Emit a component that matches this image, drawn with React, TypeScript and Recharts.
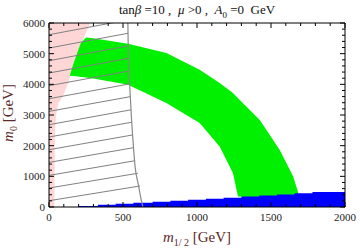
import { Area, ComposedChart, Line, XAxis, YAxis } from "recharts";

// axis ticks
const xMajor = [0, 500, 1000, 1500, 2000];
const xTicks = [0, 100, 200, 300, 400, 500, 600, 700, 800, 900, 1000, 1100, 1200, 1300, 1400, 1500, 1600, 1700, 1800, 1900, 2000];
const yMajor = [0, 1000, 2000, 3000, 4000, 5000, 6000];
const yTicks = [0, 200, 400, 600, 800, 1000, 1200, 1400, 1600, 1800, 2000, 2200, 2400, 2600, 2800, 3000, 3200, 3400, 3600, 3800, 4000, 4200, 4400, 4600, 4800, 5000, 5200, 5400, 5600, 5800, 6000];

// pink region (excluded, left of boundary)
const pinkX = [0, 36, 40, 48, 62, 95, 130, 150, 185, 230, 278];
const pinkLow = [0, 0, 2500, 3000, 3380, 3620, 4050, 4420, 4900, 5450, 6000];

// green band
const greenX = [140, 160, 185, 215, 250, 300, 534, 793, 1018, 1153, 1243, 1277, 1424, 1559, 1650, 1683];
const greenLow = [4280, 4275, 4260, 4240, 4220, 4190, 3990, 3390, 2738, 1975, 1108, 345, 300, 300, 300, 300];
const greenHigh = [4280, 4600, 4950, 5350, 5530, 5500, 5320, 5020, 4475, 4040, 3716, 3550, 2836, 1858, 998, 480];

// blue steps at the bottom
const blueX = [200, 330, 450, 570, 700, 820, 940, 1060, 1180, 1300, 1420, 1540, 1660, 1780, 2000];
const blueTop = [30, 70, 110, 140, 170, 205, 240, 270, 305, 340, 375, 410, 450, 490, 490];

// gray boundary of the hatched region
const edgeX = [533, 536, 545, 556, 570, 582, 605, 620, 635];
const edgeY = [6000, 5000, 4000, 3000, 2000, 1300, 700, 300, 0];

// hatch lines: start at m1/2 = 0, end on the boundary
const hatchLeft = [205, 619, 1030, 1454, 1868, 2282, 2684, 3118, 3531, 3955, 4369, 4770, 5184, 5618];
const hatchEndX = [615, 600, 582, 572, 566, 560, 555, 551, 546, 542, 538, 536, 534, 533];
const hatchEndY = [685, 1100, 1510, 1935, 2350, 2765, 3170, 3600, 4015, 4435, 4850, 5255, 5665, 6100];

const pinkData = pinkX.map((x, i) => ({ x, range: [pinkLow[i], 6000] }));
const greenData = greenX.map((x, i) => ({ x, range: [greenLow[i], greenHigh[i]] }));
const blueData = blueX.map((x, i) => ({ x, h: blueTop[i] }));
const edgeData = edgeX.map((x, i) => ({ x, y: edgeY[i] }));

const serif = "'Liberation Serif', 'DejaVu Serif', serif";
const labelColor = "#5c2a2a";

function BottomTick(props: any) {
  const { x, y, payload } = props;
  const major = xMajor.includes(payload.value);
  return (
    <g>
      <line x1={x} x2={x} y1={y} y2={y - (major ? 5 : 3)} stroke="#000" />
      {major && (
        <text x={x} y={y + 14} textAnchor="middle" fontSize={11} fontFamily={serif} fill="#222">
          {payload.value}
        </text>
      )}
    </g>
  );
}

function TopTick(props: any) {
  const { x, y, payload } = props;
  const major = xMajor.includes(payload.value);
  return <line x1={x} x2={x} y1={y} y2={y + (major ? 5 : 3)} stroke="#000" />;
}

function LeftTick(props: any) {
  const { x, y, payload } = props;
  const major = yMajor.includes(payload.value);
  return (
    <g>
      <line x1={x} x2={x + (major ? 5 : 3)} y1={y} y2={y} stroke="#000" />
      {major && (
        <text x={x - 4} y={y + 4} textAnchor="end" fontSize={11} fontFamily={serif} fill="#222">
          {payload.value}
        </text>
      )}
    </g>
  );
}

function RightTick(props: any) {
  const { x, y, payload } = props;
  const major = yMajor.includes(payload.value);
  return <line x1={x} x2={x - (major ? 5 : 3)} y1={y} y2={y} stroke="#000" />;
}

export default function App() {
  return (
    <div style={{ position: "absolute", left: 0, top: 0, width: 360, height: 248, fontFamily: serif }}>
      <div style={{ position: "absolute", left: 0, top: 2, width: 394, textAlign: "center", fontSize: 13, lineHeight: "15px", color: "#111", whiteSpace: "pre" }}>
        tan<i>β</i>{" =10 ,  "}<i>μ</i>{" >0 ,  "}<i>A</i><sub style={{ fontSize: 9 }}>0</sub>{" =0  GeV"}
      </div>
      <ComposedChart width={360} height={248} margin={{ top: 22, right: 14, bottom: 40, left: 48 }}>
        <XAxis dataKey="x" type="number" domain={[0, 2000]} ticks={xTicks} interval={0} height={1} tickSize={0} tickMargin={0} tick={<BottomTick />} axisLine={{ stroke: "#000" }} tickLine={false} allowDataOverflow />
        <XAxis xAxisId="top" orientation="top" dataKey="x" type="number" domain={[0, 2000]} ticks={xTicks} interval={0} height={1} tickSize={0} tickMargin={0} tick={<TopTick />} axisLine={{ stroke: "#000" }} tickLine={false} allowDataOverflow />
        <YAxis type="number" domain={[0, 6000]} ticks={yTicks} interval={0} width={1} tickSize={0} tickMargin={0} tick={<LeftTick />} axisLine={{ stroke: "#000" }} tickLine={false} allowDataOverflow />
        <YAxis yAxisId="right" orientation="right" type="number" domain={[0, 6000]} ticks={yTicks} interval={0} width={1} tickSize={0} tickMargin={0} tick={<RightTick />} axisLine={{ stroke: "#000" }} tickLine={false} allowDataOverflow />

        <Area data={pinkData} dataKey="range" type="linear" stroke="none" fill="#ffd6d6" fillOpacity={1} isAnimationActive={false} dot={false} activeDot={false} />
        <Area data={greenData} dataKey="range" type="linear" stroke="none" fill="#00f000" fillOpacity={1} isAnimationActive={false} dot={false} activeDot={false} />
        <Area data={blueData} dataKey="h" type="stepAfter" stroke="none" fill="#0000ff" fillOpacity={1} isAnimationActive={false} dot={false} activeDot={false} />
        {hatchLeft.map((y0, i) => (
          <Line
            key={i}
            data={[{ x: 0, y: y0 }, { x: hatchEndX[i], y: hatchEndY[i] }]}
            dataKey="y"
            type="linear"
            stroke="#808080"
            strokeWidth={1}
            dot={false}
            activeDot={false}
            isAnimationActive={false}
          />
        ))}
        <Line data={edgeData} dataKey="y" type="monotone" stroke="#8a8a8a" strokeWidth={1.2} dot={false} activeDot={false} isAnimationActive={false} />
      </ComposedChart>
      <div style={{ position: "absolute", left: 0, top: 228, width: 394, textAlign: "center", fontSize: 15, lineHeight: "18px", color: labelColor, whiteSpace: "pre" }}>
        <i>m</i><sub style={{ fontSize: 10 }}>1/ 2</sub>{" [GeV]"}
      </div>
      <div style={{ position: "absolute", left: 11, top: 113, transform: "translate(-50%, -50%) rotate(-90deg)", fontSize: 15, lineHeight: "18px", color: labelColor, whiteSpace: "pre" }}>
        <i>m</i><sub style={{ fontSize: 10 }}>0</sub>{" [GeV]"}
      </div>
    </div>
  );
}
